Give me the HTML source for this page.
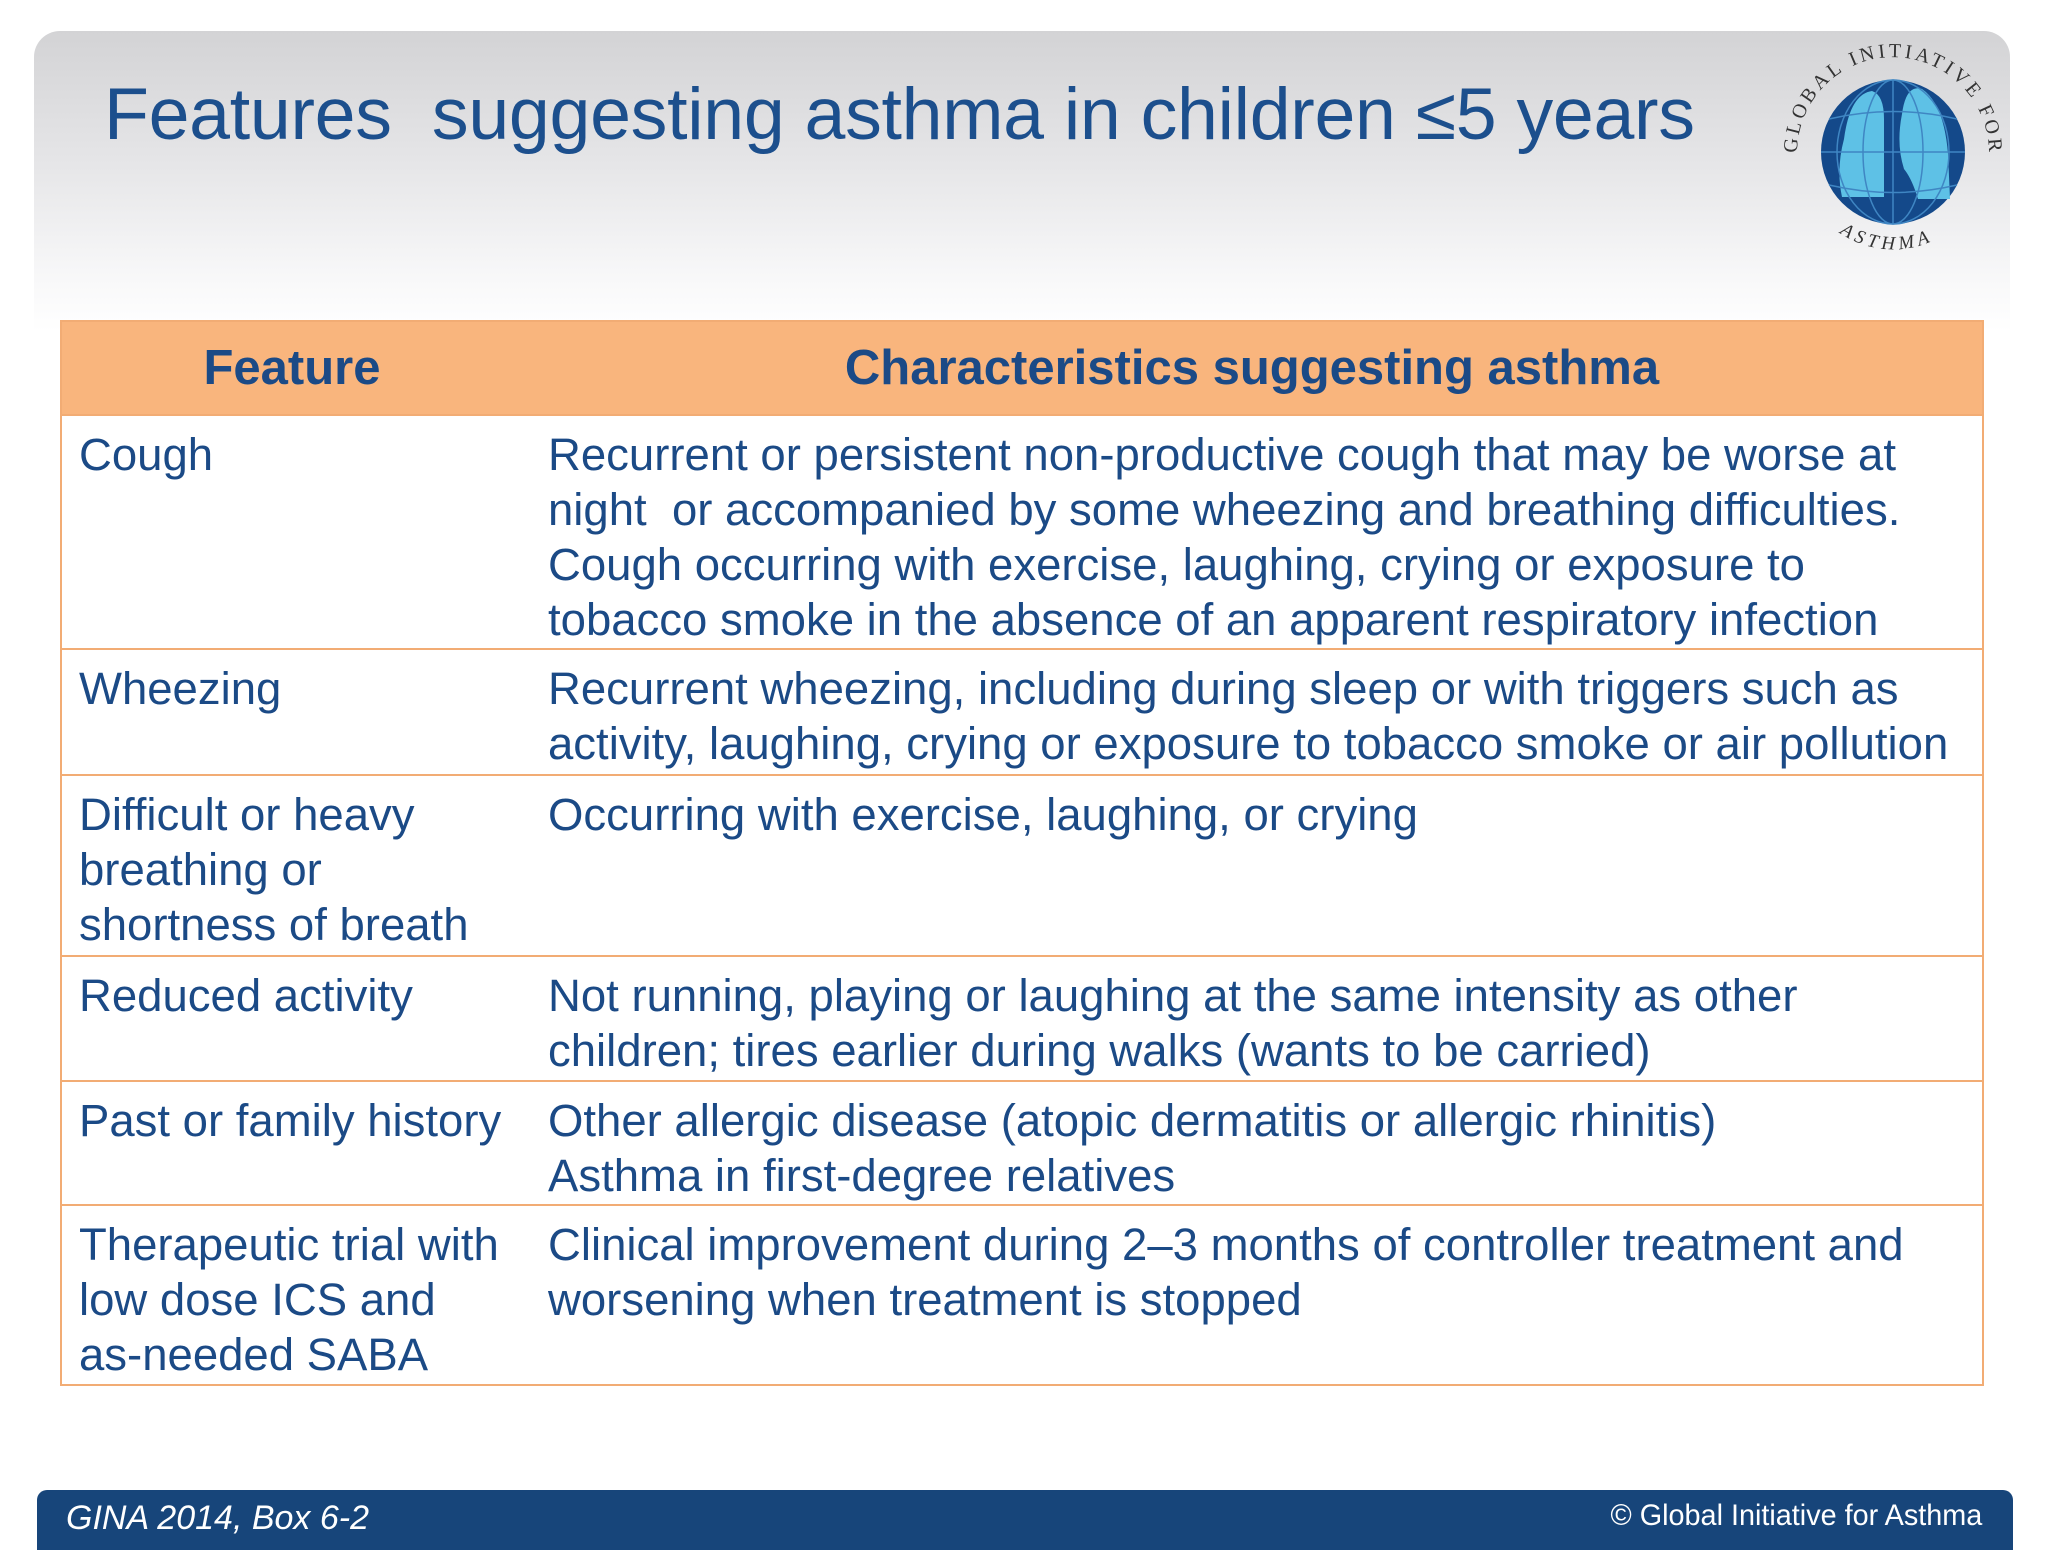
<!DOCTYPE html>
<html><head><meta charset="utf-8">
<style>
html,body{margin:0;padding:0;}
body{width:2048px;height:1536px;position:relative;overflow:hidden;background:#fff;font-family:"Liberation Sans",Arial,sans-serif;color:#1b4a86;}
#panel{position:absolute;left:34px;top:31px;width:1976px;height:300px;border-radius:26px 26px 0 0;background:linear-gradient(to bottom,#d3d3d5 0%,#e6e6e8 45%,#f7f7f8 80%,#ffffff 100%);}
#title{position:absolute;left:104px;top:71px;font-size:73.5px;color:#1c4f8d;white-space:nowrap;letter-spacing:-0.3px;}
#logo{position:absolute;left:1752px;top:-1px;width:280px;height:280px;overflow:visible;}
table{position:absolute;left:60px;top:320px;width:1924px;border-collapse:collapse;table-layout:fixed;}
td,th{border-top:2px solid #f2ac74;border-bottom:2px solid #f2ac74;padding:0;vertical-align:top;}
table{border-left:2px solid #f2ac74;border-right:2px solid #f2ac74;}
th{background:#f9b57d;font-size:49px;font-weight:bold;height:92px;text-align:center;vertical-align:middle;color:#1b4a86;}
td{font-size:45.5px;line-height:55px;color:#1b4a86;white-space:nowrap;}
td.f{padding-left:17px;padding-top:11px;}
td.c{padding-left:26px;padding-top:11px;}
#footer{position:absolute;left:37px;top:1490px;width:1976px;height:60px;background:#17457a;border-radius:10px 10px 0 0;color:#fff;}
#fl{position:absolute;left:29px;top:9px;font-size:34px;font-style:italic;white-space:nowrap;}
#fr{position:absolute;right:31px;top:9px;font-size:30px;transform:scaleX(0.96);transform-origin:right top;white-space:nowrap;}
</style></head>
<body>
<div id="panel"></div>
<div id="title">Features&nbsp; suggesting asthma in children ≤5 years</div>
<svg id="logo" viewBox="0 0 280 280">
  <defs>
    <path id="arcTop" d="M 46 168 A 96 96 0 1 1 236 168"/>
    <path id="arcBot" d="M 60 205 A 95 95 0 0 0 222 205"/>
  </defs>
  <circle cx="141" cy="153" r="72" fill="#14498a"/>
  <g transform="translate(20,20)">
  <path d="M72 120 Q78 75 100 72 Q112 76 112 100 L112 178 L70 178 Q64 150 72 120Z" fill="#5ec1e6"/>
  <path d="M130 95 Q134 65 150 70 Q172 85 176 135 L178 180 L146 180 Q140 160 132 150 Q124 125 130 95Z" fill="#5ec1e6"/>
  <g stroke="#3f86c3" stroke-width="1.5" fill="none">
    <ellipse cx="121" cy="133" rx="30" ry="72"/>
    <ellipse cx="121" cy="133" rx="56" ry="72"/>
    <line x1="121" y1="61" x2="121" y2="205"/>
    <line x1="49" y1="133" x2="193" y2="133"/>
    <path d="M57 100 Q121 85 185 100"/>
    <path d="M57 166 Q121 181 185 166"/>
  </g>
  </g>
  <text font-family="Liberation Serif,serif" font-size="20" fill="#333"><textPath href="#arcTop" startOffset="14" textLength="300" lengthAdjust="spacing">GLOBAL INITIATIVE FOR</textPath></text>
  <text font-family="Liberation Serif,serif" font-size="19" font-style="italic" fill="#333"><textPath href="#arcBot" startOffset="40" textLength="95" lengthAdjust="spacing">ASTHMA</textPath></text>
</svg>
<table>
<tr><th style="width:460px">Feature</th><th>Characteristics suggesting asthma</th></tr>
<tr style="height:234px"><td class="f">Cough</td><td class="c">Recurrent or persistent non-productive cough that may be worse at<br>night&nbsp; or accompanied by some wheezing and breathing difficulties.<br>Cough occurring with exercise, laughing, crying or exposure to<br>tobacco smoke in the absence of an apparent respiratory infection</td></tr>
<tr style="height:126px"><td class="f">Wheezing</td><td class="c">Recurrent wheezing, including during sleep or with triggers such as<br>activity, laughing, crying or exposure to tobacco smoke or air pollution</td></tr>
<tr style="height:181px"><td class="f">Difficult or heavy<br>breathing or<br>shortness of breath</td><td class="c">Occurring with exercise, laughing, or crying</td></tr>
<tr style="height:125px"><td class="f">Reduced activity</td><td class="c">Not running, playing or laughing at the same intensity as other<br>children; tires earlier during walks (wants to be carried)</td></tr>
<tr style="height:124px"><td class="f">Past or family history</td><td class="c">Other allergic disease (atopic dermatitis or allergic rhinitis)<br>Asthma in first-degree relatives</td></tr>
<tr style="height:180px"><td class="f">Therapeutic trial with<br>low dose ICS and<br>as-needed SABA</td><td class="c">Clinical improvement during 2–3 months of controller treatment and<br>worsening when treatment is stopped</td></tr>
</table>
<div id="footer">
  <div id="fl">GINA 2014, Box 6-2</div>
  <div id="fr">© Global Initiative for Asthma</div>
</div>
</body></html>
